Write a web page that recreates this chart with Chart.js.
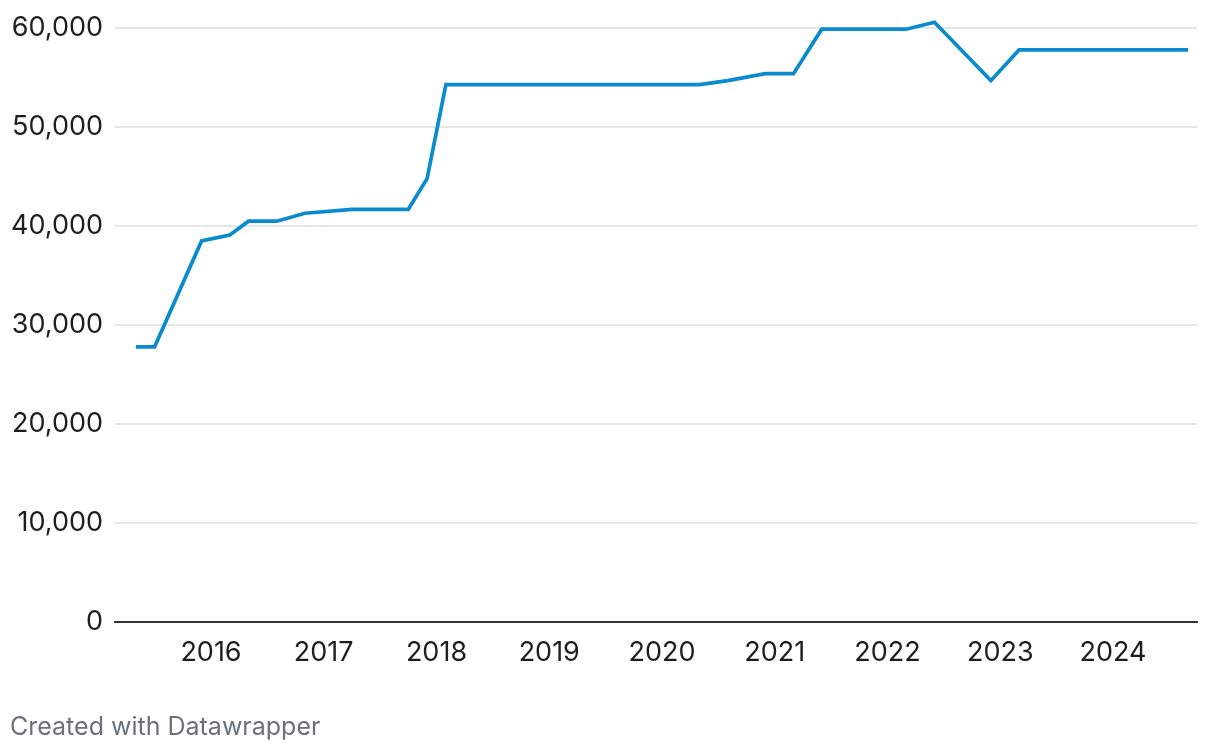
<!DOCTYPE html>
<html>
<head>
<meta charset="utf-8">
<script src="https://cdn.jsdelivr.net/npm/chart.js@4/dist/chart.umd.min.js"></script>
<style>
  html, body { margin: 0; padding: 0; background: #fff; }
  #wrap { position: relative; width: 1220px; height: 752px; }
  #c { position: absolute; left: 0; top: 0; }
  #credit { position: absolute; left: 10px; top: 709px; font-family: Inter, Roboto, sans-serif;
            font-size: 25px; color: #6b717a; line-height: 34px; }
</style>
</head>
<body>
<div id="wrap">
  <canvas id="c" width="1220" height="752"></canvas>
  <div id="credit">Created with Datawrapper</div>
</div>
<script>
// Data (month of observation, value)
const dates = ['2015-05','2015-07','2015-12','2016-03','2016-05','2016-08','2016-11','2017-04',
               '2017-10','2017-12','2018-02','2020-05','2020-08','2020-12','2021-03','2021-06',
               '2022-03','2022-06','2022-12','2023-03','2024-09'];
const values = [27800,27800,38500,39100,40500,40500,41300,41700,
                41700,44800,54300,54300,54700,55400,55400,59900,
                59900,60600,54700,57800,57800];
const yearTicks = [2016,2017,2018,2019,2020,2021,2022,2023,2024];
const valueTicks = [0,10000,20000,30000,40000,50000,60000];

function toYear(s) { const [y, m] = s.split('-').map(Number); return y + (m - 1) / 12; }
const points = dates.map((d, i) => ({ x: toYear(d), y: values[i] }));

const FONT = 'Inter, Roboto, sans-serif';

new Chart(document.getElementById('c'), {
  type: 'line',
  data: {
    datasets: [{
      data: points,
      borderColor: '#0a8bcf',
      borderWidth: 3.7,
      pointRadius: 0,
      tension: 0,
      clip: false,
      fill: false
    }]
  },
  options: {
    responsive: false,
    animation: false,
    events: [],
    layout: { padding: { top: 28, right: 23, bottom: 70, left: 0 } },
    plugins: { legend: { display: false }, tooltip: { enabled: false }, title: { display: false } },
    scales: {
      x: {
        type: 'linear',
        min: 2015.1486,
        max: 2024.745,
        afterBuildTicks: s => { s.ticks = yearTicks.map(v => ({ value: v })); },
        afterFit: s => { s.height = 60; },
        grid: { display: false, drawTicks: false },
        border: { display: true, color: '#333333', width: 2 },
        ticks: {
          autoSkip: false,
          maxRotation: 0,
          padding: 15,
          color: '#1e1e1e',
          font: { family: FONT, size: 27 },
          callback: v => String(v)
        }
      },
      y: {
        min: 0,
        max: 60000,
        afterBuildTicks: s => { s.ticks = valueTicks.map(v => ({ value: v })); },
        afterFit: s => { s.width = 115; },
        grid: {
          color: ctx => ctx.tick && ctx.tick.value === 0 ? 'rgba(0,0,0,0)' : '#e6e6e6',
          lineWidth: 2,
          drawTicks: false
        },
        border: { display: false },
        ticks: {
          padding: 12,
          color: '#1e1e1e',
          font: { family: FONT, size: 27 },
          callback: v => v.toLocaleString('en-US')
        }
      }
    }
  }
});
</script>
</body>
</html>
